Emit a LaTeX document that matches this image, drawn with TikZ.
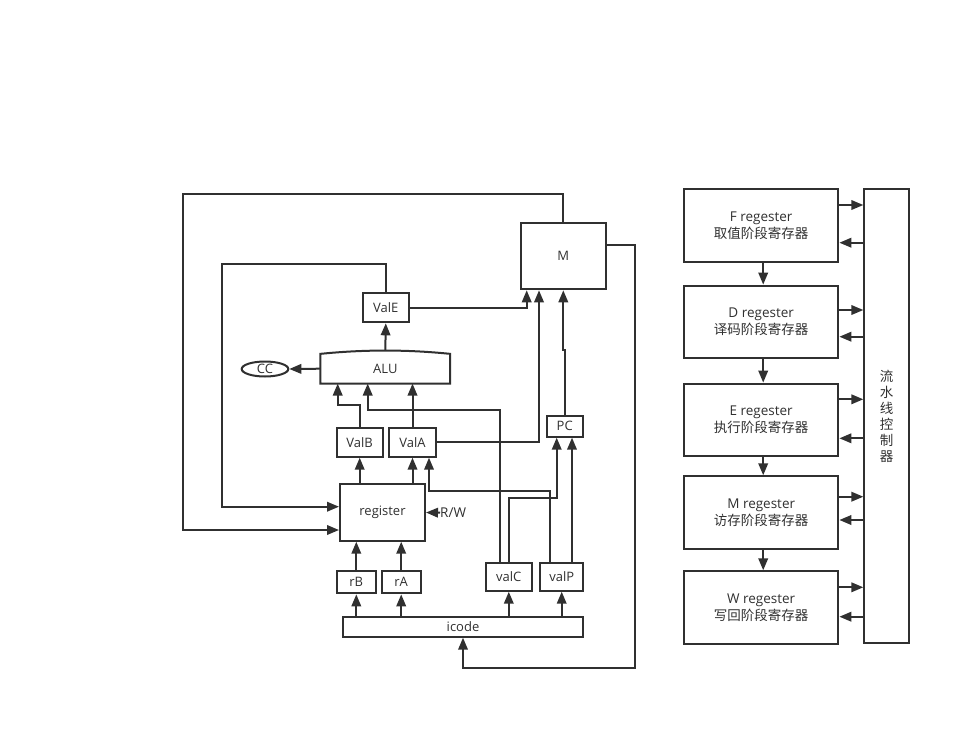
\documentclass[tikz,border=0pt]{standalone}
\usepackage{fontspec}
\setmainfont{Open Sans}
\newfontfamily\cjk{Noto Sans CJK SC}
\usetikzlibrary{arrows.meta,shapes.geometric,calc}
\definecolor{ink}{HTML}{303030}
\begin{document}
\begin{tikzpicture}[x=1pt,y=-1pt,
  every node/.style={text=ink},
  line/.style={draw=ink,line width=2pt},
  arr/.style={line,-{Triangle[length=12pt,width=9.5pt]}},
  box/.style={draw=ink,line width=2pt,rectangle,inner sep=0pt,font=\fontsize{13}{15}\selectfont},
  stage/.style={box,minimum width=154.3pt,minimum height=72.4pt,align=center,font=\fontsize{13.5}{16.7}\selectfont},
]
\useasboundingbox (0,0) rectangle (971,728);

% ---------- datapath blocks ----------
\node[box,minimum width=84.7pt,minimum height=66pt] (M) at (563.3,256.3) {M};
\node[box,minimum width=46.3pt,minimum height=29pt] (ValE) at (385.8,307.8) {ValE};
\node[inner sep=0pt,minimum width=129.3pt,minimum height=29.3pt,font=\fontsize{13}{15}\selectfont] (alu) at (385.3,368.7) {ALU};
\draw[line] (alu.north west)
  .. controls ($(alu.north)+(-21.5,-4.4)$) and ($(alu.north)+(21.5,-4.4)$) .. (alu.north east)
  -- (alu.south east) -- (alu.south west) -- cycle;
\node[draw=ink,line width=2pt,ellipse,inner sep=0pt,minimum width=46.6pt,minimum height=15pt,font=\fontsize{13}{15}\selectfont] (CC) at (265,369) {CC};
\node[box,minimum width=46pt,minimum height=29pt] (ValB) at (359.7,442.2) {ValB};
\node[box,minimum width=46.4pt,minimum height=29pt] (ValA) at (412.5,442.2) {ValA};
\node[box,minimum width=36pt,minimum height=20.7pt] (PC) at (564.7,426.3) {PC};
\node[box,minimum width=85pt,minimum height=56.4pt] (reg) at (382.5,512.5) {register};
\node[inner sep=0pt,anchor=west,font=\fontsize{13.5}{15}\selectfont] (RW) at (440,512.7) {R/W};
\node[box,minimum width=39.3pt,minimum height=22.3pt] (rB) at (356.3,582.2) {rB};
\node[box,minimum width=39pt,minimum height=22.3pt] (rA) at (401.2,582.2) {rA};
\node[box,minimum width=45.7pt,minimum height=28pt] (valC) at (508.8,576.7) {valC};
\node[box,minimum width=43.3pt,minimum height=28pt] (valP) at (561.7,576.7) {valP};
\node[box,minimum width=240.6pt,minimum height=20pt] (icode) at (463,626.7) {icode};

% ---------- datapath connectors ----------
\draw[arr] (M.north) |- (182.7,194) -- (182.7,530) -- (reg.west |- 0,530);
\draw[arr] (ValE.north) |- (221.7,264) -- (221.7,506.7) -- (reg.west |- 0,506.7);
\draw[arr] (ValE.east) -| ([xshift=-36.6pt]M.south);
\draw[arr] ($(alu.north)+(0,-3.3)$) -- (ValE.south);
\draw[arr] (alu.west) -- (CC.east);
\draw[arr] (ValB.north) -- ++(0,-21.7) -| ([xshift=-47.6pt]alu.south);
\draw[arr] (ValA.north) -- (ValA.north |- alu.south);
\draw[arr] ([xshift=-8.8pt]valC.north) -- ++(0,-152) -| ([xshift=-17.6pt]alu.south);
\draw[arr] (ValA.east) -| ([xshift=-24.3pt]M.south);
\draw[arr] (PC.north) -- ++(0,-64.6) -| (M.south);
\draw[arr] (ValB.south |- reg.north) -- (ValB.south);
\draw[arr] (ValA.south |- reg.north) -- (ValA.south);
\draw[arr] ([xshift=-11.7pt]valP.north) -- ++(0,-70.4) -| ([xshift=16.5pt]ValA.south);
\draw[arr] (valC.north) -- ++(0,-63.7) -| ([xshift=-8pt]PC.south);
\draw[arr] ([xshift=10.3pt]valP.north) -- ([xshift=10.3pt]valP.north |- PC.south);
\draw[arr] (RW.west) -- (reg.east);
\draw[arr] (rB.north) -- (rB.north |- reg.south);
\draw[arr] (rA.north) -- (rA.north |- reg.south);
\draw[arr] (rB.south |- icode.north) -- (rB.south);
\draw[arr] (rA.south |- icode.north) -- (rA.south);
\draw[arr] (valC.south |- icode.north) -- (valC.south);
\draw[arr] (valP.south |- icode.north) -- (valP.south);
\draw[arr] (M.east |- 0,245) -| (635,667.7) -| (icode.south);

% ---------- pipeline registers ----------
\node[stage] (F) at (761.2,225.5) {F regester\\{\cjk 取值阶段寄存器}};
\node[stage] (D) at (761.2,321.8) {D regester\\{\cjk 译码阶段寄存器}};
\node[stage] (E) at (761.2,419.8) {E regester\\{\cjk 执行阶段寄存器}};
\node[stage] (MR) at (761.2,512.5) {M regester\\{\cjk 访存阶段寄存器}};
\node[stage] (W) at (761.2,607.5) {W regester\\{\cjk 写回阶段寄存器}};
\node[box,minimum width=44.7pt,minimum height=454pt,align=center,font=\cjk\fontsize{13.5}{16}\selectfont] (ctrl) at (886.7,416.3) {流\\水\\线\\控\\制\\器};

\draw[arr] ([xshift=2pt]F.south) -- ([xshift=2pt]D.north);
\draw[arr] ([xshift=2pt]D.south) -- ([xshift=2pt]E.north);
\draw[arr] ([xshift=2pt]E.south) -- ([xshift=2pt]MR.north);
\draw[arr] ([xshift=2pt]MR.south) -- ([xshift=2pt]W.north);

\draw[arr] (F.east |- 0,205) -- (ctrl.west |- 0,205);
\draw[arr] (ctrl.west |- 0,242.7) -- (F.east |- 0,242.7);
\draw[arr] (D.east |- 0,310) -- (ctrl.west |- 0,310);
\draw[arr] (ctrl.west |- 0,336.7) -- (D.east |- 0,336.7);
\draw[arr] (E.east |- 0,399.3) -- (ctrl.west |- 0,399.3);
\draw[arr] (ctrl.west |- 0,438.3) -- (E.east |- 0,438.3);
\draw[arr] (MR.east |- 0,496.7) -- (ctrl.west |- 0,496.7);
\draw[arr] (ctrl.west |- 0,520) -- (MR.east |- 0,520);
\draw[arr] (W.east |- 0,587.3) -- (ctrl.west |- 0,587.3);
\draw[arr] (ctrl.west |- 0,616.7) -- (W.east |- 0,616.7);
\end{tikzpicture}
\end{document}
